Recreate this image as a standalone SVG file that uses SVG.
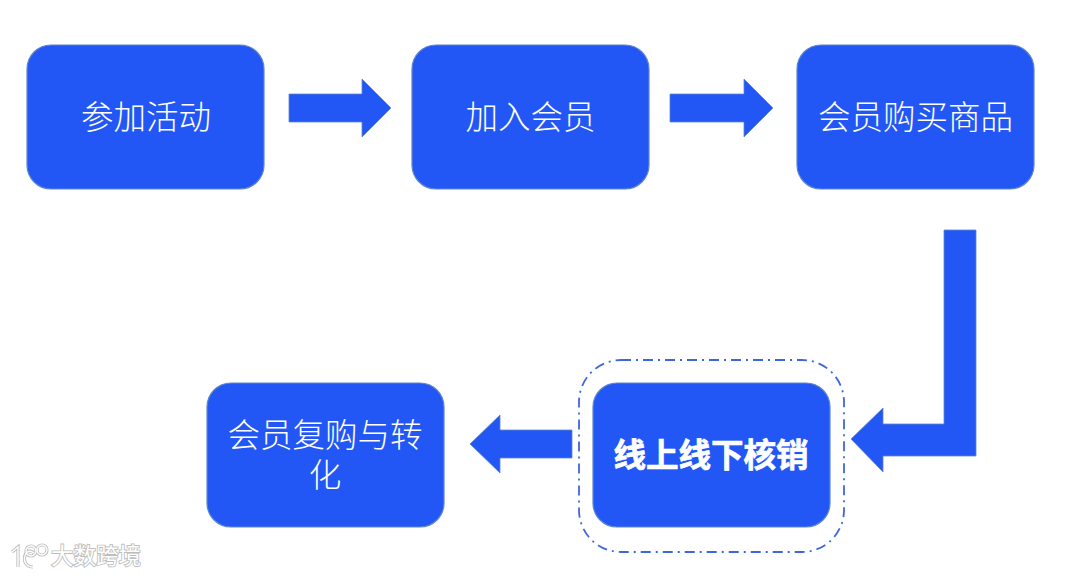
<svg xmlns="http://www.w3.org/2000/svg" width="1080" height="576" viewBox="0 0 1080 576">
<style>
.box{fill:#2357f5;stroke:#5f86c8;stroke-width:1.2}
.lbl{font-family:"Noto Sans CJK SC","Liberation Sans",sans-serif;font-size:32.5px;font-weight:300;fill:#fff;text-anchor:middle}
.bold{font-weight:700;stroke:#fff;stroke-width:.7}
.arr{fill:#2357f5;stroke:#5f86c8;stroke-width:.8}
.wm{font-family:"Noto Sans CJK SC","Liberation Sans",sans-serif;font-size:22.500px;fill:#fff;stroke:#bdbdbd;stroke-width:1.800;paint-order:stroke}
.wl{fill:none;stroke:#bdbdbd;stroke-width:3.200}
.wi{fill:none;stroke:#fff;stroke-width:1.400}
</style>
<rect width="1080" height="576" fill="#fff"/>
<g id="connectors">
<path class="arr" d="M289 94H362V79L391 108 362 137V122H289Z"/>
<path class="arr" d="M670 94H744V79L773 108 744 137V122H670Z"/>
<path class="arr" d="M944 230H976V456H883V472L851 439 883 408V424H944Z"/>
<path class="arr" d="M572 430H500V415L470 444 500 473V458H572Z"/>
</g>
<g id="node-1"><rect class="box" x="27" y="45" width="237" height="144" rx="24"/><text class="lbl" x="146" y="129">参加活动</text></g>
<g id="node-2"><rect class="box" x="412" y="45" width="237" height="144" rx="24"/><text class="lbl" x="530.500" y="129">加入会员</text></g>
<g id="node-3"><rect class="box" x="797" y="45" width="237" height="144" rx="24"/><text class="lbl" x="915.500" y="129">会员购买商品</text></g>
<g id="node-4"><rect x="579" y="360" width="265" height="192" rx="42" fill="none" stroke="#3f66dc" stroke-width="1.8" stroke-dasharray="10 5 2 5"/><rect class="box" x="593" y="383" width="237" height="144" rx="24"/><text class="lbl bold" x="711" y="467">线上线下核销</text></g>
<g id="node-5"><rect class="box" x="207" y="383" width="237" height="144" rx="24"/><text class="lbl" x="325" y="447">会员复购与转<tspan x="325" dy="40">化</tspan></text></g>
<g id="watermark">
<path class="wl" d="M12 552L18 547V567M34 553C24 545 19 567 33 567"/>
<circle class="wl" cx="31" cy="551" r="5"/><circle class="wl" cx="42" cy="550" r="5"/>
<path class="wi" d="M12 552L18 547V567M34 553C24 545 19 567 33 567"/>
<circle class="wi" cx="31" cy="551" r="5"/><circle class="wi" cx="42" cy="550" r="5"/>
<text class="wm" x="51" y="564">大数跨境</text>
</g>
</svg>
